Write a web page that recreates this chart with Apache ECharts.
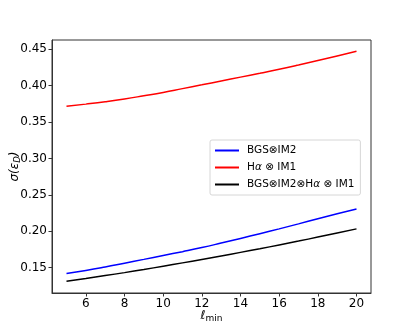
<!DOCTYPE html>
<html>
<head>
<meta charset="utf-8">
<script src="https://cdn.jsdelivr.net/npm/echarts@6/dist/echarts.min.js"></script>
<style>
  html, body { margin: 0; padding: 0; background: #fff; }
  #main { width: 413px; height: 330px; }
</style>
</head>
<body>
<div id="main"></div>
<script>
// data
var lmin = [5, 6, 7, 8, 9, 10, 11, 12, 13, 14, 15, 16, 17, 18, 19, 20];
var bgsIm2 = [0.142, 0.1462, 0.151, 0.1562, 0.1614, 0.1667, 0.172, 0.1776, 0.1838, 0.1902, 0.1967, 0.2033, 0.2102, 0.2172, 0.2240, 0.2306];
var haIm1 = [0.3717, 0.3747, 0.378, 0.3818, 0.3862, 0.3908, 0.396, 0.4012, 0.4065, 0.4118, 0.417, 0.4225, 0.4284, 0.4346, 0.4409, 0.4473];
var combined = [0.1313, 0.1351, 0.1391, 0.1432, 0.1475, 0.152, 0.1566, 0.1613, 0.1661, 0.171, 0.176, 0.1812, 0.1865, 0.192, 0.1977, 0.2033];
var xTicks = [6, 8, 10, 12, 14, 16, 18, 20];
var yTicks = [0.15, 0.20, 0.25, 0.30, 0.35, 0.40, 0.45];

var names = ['BGS⊗IM2', 'Hα ⊗ IM1', 'BGS⊗IM2⊗Hα ⊗ IM1'];
var legendText = {
    'BGS⊗IM2': 'BGS⊗IM2',
    'Hα ⊗ IM1': 'H{it|α} ⊗ IM1',
    'BGS⊗IM2⊗Hα ⊗ IM1': 'BGS⊗IM2⊗H{it|α} ⊗ IM1'
};

function pairs(ys) {
    return lmin.map(function (x, i) { return [x, ys[i]]; });
}

var font = 'DejaVu Sans';
var myChart = echarts.init(document.getElementById('main'));

var option = {
    backgroundColor: '#fff',
    animation: false,
    textStyle: { fontFamily: font },
    grid: {
        left: 52, right: 42, top: 40, bottom: 37,
        show: true, borderColor: '#333', borderWidth: 1,
        containLabel: false,
        outerBoundsMode: 'none'
    },
    legend: {
        orient: 'vertical',
        left: 210, top: 140,
        width: 155,
        padding: [5, 6, 5, 5],
        itemGap: 6,
        itemWidth: 24, itemHeight: 2,
        icon: 'rect',
        borderColor: '#d6d6d6', borderWidth: 1, borderRadius: 2,
        backgroundColor: 'rgba(255,255,255,0.8)',
        data: names,
        formatter: function (n) { return legendText[n]; },
        textStyle: {
            fontFamily: font, fontSize: 10.5, color: '#000', padding: [0, 0, 0, 3],
            rich: { it: { fontFamily: font, fontSize: 10.5, fontStyle: 'italic', color: '#000' } }
        }
    },
    xAxis: {
        type: 'value',
        min: 4.25, max: 20.75,
        name: '{l|ℓ}{s|min}',
        nameLocation: 'middle',
        nameGap: 15,
        nameMoveOverlap: false,
        nameTextStyle: {
            rich: {
                l: { fontFamily: font, fontSize: 12, fontStyle: 'italic', color: '#000' },
                s: { fontFamily: font, fontSize: 9, color: '#000', padding: [6, 0, 0, 0] }
            }
        },
        axisLine: { show: true, lineStyle: { color: '#333' } },
        axisTick: { show: true, length: 3.5, customValues: xTicks, lineStyle: { color: '#333' } },
        axisLabel: { customValues: xTicks, fontSize: 12, color: '#000', margin: 5, fontFamily: font },
        splitLine: { show: false }
    },
    yAxis: {
        type: 'value',
        min: 0.1152, max: 0.4628,
        name: '{g|σ(ε}{s|D}{g|)}',
        nameLocation: 'middle',
        nameRotate: 90,
        nameGap: 30,
        nameMoveOverlap: false,
        nameTextStyle: {
            rich: {
                g: { fontFamily: font, fontSize: 12, fontStyle: 'italic', color: '#000' },
                s: { fontFamily: font, fontSize: 8.5, fontStyle: 'italic', color: '#000', padding: [6, 0, 0, 0] }
            }
        },
        axisLine: { show: true, lineStyle: { color: '#333' } },
        axisTick: { show: true, length: 3.5, customValues: yTicks, lineStyle: { color: '#333' } },
        axisLabel: {
            customValues: yTicks, fontSize: 12, color: '#000', margin: 5, fontFamily: font,
            formatter: function (v) { return v.toFixed(2); }
        },
        splitLine: { show: false }
    },
    series: [
        { name: names[0], type: 'line', data: pairs(bgsIm2), showSymbol: false, smooth: true,
          color: '#0000ff', lineStyle: { width: 1.5, color: '#0000ff' } },
        { name: names[1], type: 'line', data: pairs(haIm1), showSymbol: false, smooth: true,
          color: '#ff0000', lineStyle: { width: 1.5, color: '#ff0000' } },
        { name: names[2], type: 'line', data: pairs(combined), showSymbol: false, smooth: true,
          color: '#000000', lineStyle: { width: 1.5, color: '#000000' } }
    ]
};
myChart.setOption(option);
</script>
</body>
</html>
